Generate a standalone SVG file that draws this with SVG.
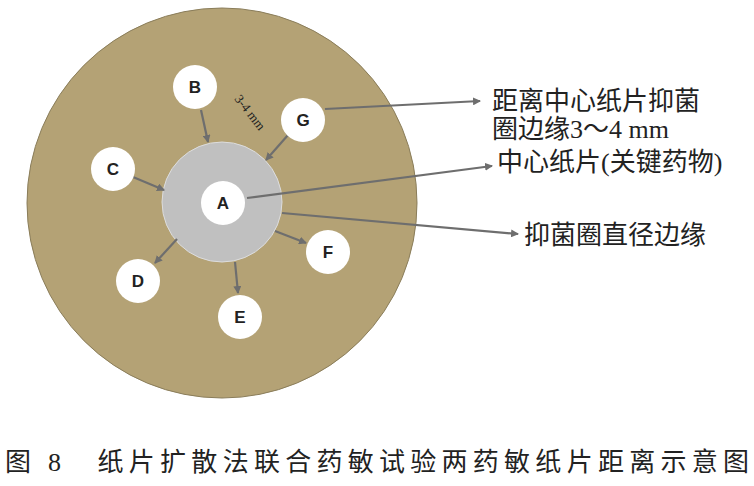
<svg xmlns="http://www.w3.org/2000/svg" width="754" height="486" viewBox="0 0 754 486">
<style>
.n{fill:#fff}
.l{font-family:"Liberation Sans",Arial,sans-serif;font-weight:bold;font-size:17px;fill:#222;text-anchor:middle}
.t{font-family:"Liberation Serif","Noto Sans CJK SC",serif;font-size:26px;fill:#222}
.c{stroke:#6e6e6e;stroke-width:2.2;fill:none;marker-end:url(#a)}
</style>
<defs><marker id="a" markerWidth="8" markerHeight="8" refX="7" refY="4" orient="auto" markerUnits="userSpaceOnUse"><path d="M0,0L8,4L0,8z" fill="#6e6e6e"/></marker></defs>
<rect width="754" height="486" fill="#fff"/>
<g id="dish"><circle cx="222" cy="203" r="195" fill="#B4A275" stroke="#8a7d5a" stroke-width="1"/></g>
<g id="zone"><circle cx="222" cy="202" r="60" fill="#C0C0C0" stroke="#ddd" stroke-width="1"/></g>
<g id="connectors">
<path class="c" d="M201,110L208,142"/>
<path class="c" d="M288,135L266,160"/>
<path class="c" d="M133,177L164,190"/>
<path class="c" d="M177,239L155,263"/>
<path class="c" d="M235,262L238,293"/>
<path class="c" d="M275,231L306,243"/>
<path class="c" d="M325,109L480,101"/>
<path class="c" d="M247,198L492,166"/>
<path class="c" d="M282,213L518,234"/>
</g>
<g id="A"><circle class="n" cx="223" cy="203" r="22"/><text class="l" x="223" y="209">A</text></g>
<g id="B"><circle class="n" cx="195" cy="87" r="22"/><text class="l" x="195" y="93">B</text></g>
<g id="C"><circle class="n" cx="113" cy="169" r="22"/><text class="l" x="113" y="175">C</text></g>
<g id="D"><circle class="n" cx="138" cy="281" r="22"/><text class="l" x="138" y="287">D</text></g>
<g id="E"><circle class="n" cx="240" cy="317" r="22"/><text class="l" x="240" y="323">E</text></g>
<g id="F"><circle class="n" cx="328" cy="252" r="22"/><text class="l" x="328" y="258">F</text></g>
<g id="G"><circle class="n" cx="303" cy="120" r="22"/><text class="l" x="303" y="126">G</text></g>
<text font-family="Liberation Serif,serif" font-size="13" fill="#222" transform="translate(234,99) rotate(52)">3-4 mm</text>
<text class="t" x="492" y="110">距离中心纸片抑菌</text>
<text class="t" x="492" y="138">圈边缘3～4 mm</text>
<text class="t" x="497" y="171">中心纸片(关键药物)</text>
<text class="t" x="524" y="244">抑菌圈直径边缘</text>
<text class="t" x="5" y="471" font-size="28" fill="#333" textLength="744">图 8　纸片扩散法联合药敏试验两药敏纸片距离示意图</text>
</svg>
